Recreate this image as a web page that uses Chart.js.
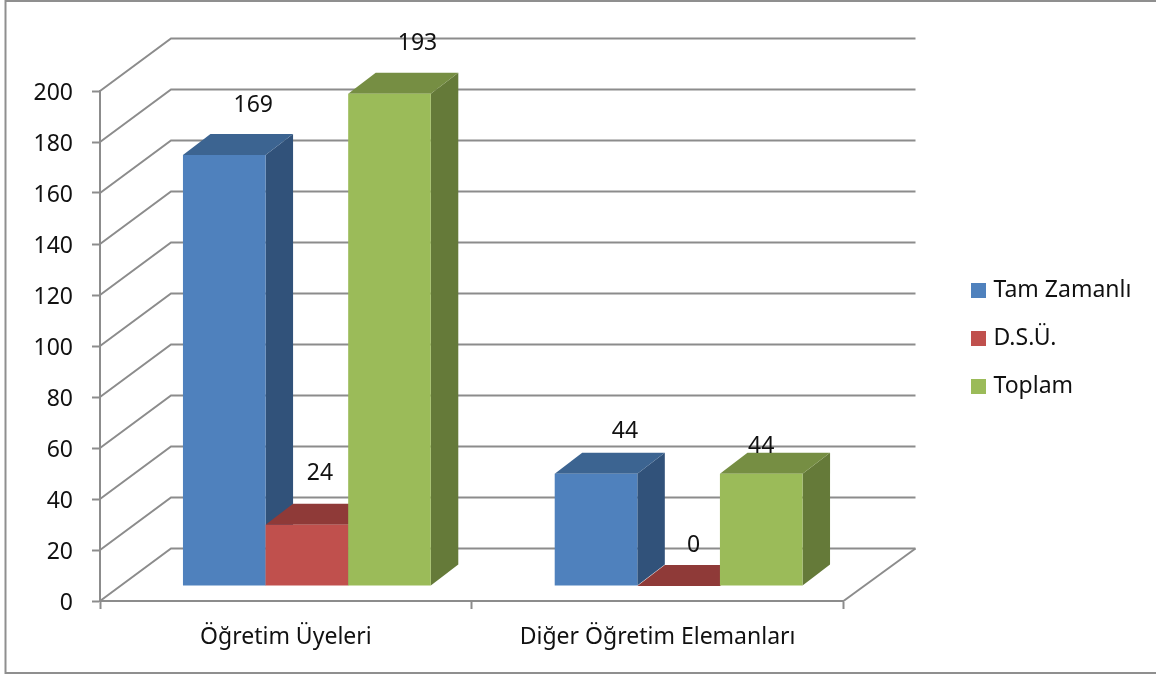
<!DOCTYPE html>
<html lang="tr">
<head>
<meta charset="utf-8">
<style>html,body{margin:0;padding:0;background:#fff}canvas{display:block}</style>
<script src="https://cdn.jsdelivr.net/npm/chart.js@4"></script>
</head>
<body>
<canvas id="c" width="1156" height="677"></canvas>
<script>
const categories = ["Öğretim Üyeleri", "Diğer Öğretim Elemanları"];
const tamZamanli = [169, 44];
const dsu = [24, 0];
const toplam = [193, 44];
const seriesNames = ["Tam Zamanlı", "D.S.Ü.", "Toplam"];
const yTicksMax = 200;
const yTicksStep = 20;

const FONT = "'Noto Sans', sans-serif";
const FS = 23;
const GRID = "#8c8c8c";
const frontColors = ["#4F81BD", "#C0504D", "#9BBB59"];
const topColors = ["#3C6491", "#8F3A38", "#768E43"];
const sideColors = ["#31527A", "#7C3230", "#657A39"];
const wall = {dx: 71, dy: -52.5};
const barShift = {dx: 21, dy: -15};
const depth = {dx: 27.5, dy: -21};
// offsets of each value label from the bar's front top-centre [series][category]
const labelOffsets = [[[29, -50], [29, -42]], [[13, -51], [15, -41]], [[28, -50], [0, -27]]];

function swatch(color) {
  const s = document.createElement("canvas");
  s.width = 15; s.height = 15;
  const g = s.getContext("2d");
  g.fillStyle = color; g.fillRect(0, 0, 15, 15);
  return s;
}
const swatches = frontColors.map(swatch);

function poly(ctx, pts, fill) {
  ctx.fillStyle = fill;
  ctx.beginPath();
  pts.forEach((p, i) => i ? ctx.lineTo(p[0], p[1]) : ctx.moveTo(p[0], p[1]));
  ctx.closePath();
  ctx.fill();
}

const threeD = {
  id: "threeD",
  beforeDraw(chart) {
    const ctx = chart.ctx;
    ctx.save();
    ctx.strokeStyle = "#8f8f8f";
    ctx.lineWidth = 2;
    ctx.strokeRect(5.5, 1, 1170, 672);
    ctx.restore();
  },
  afterLayout(chart) {
    const l = chart.legend;
    const h = l.bottom - l.top;
    l.left = 950; l.right = 1156;
    l.top = 254; l.bottom = 254 + h;
  },
  beforeDatasetsDraw(chart) {
    const ctx = chart.ctx, y = chart.scales.y;
    const a = chart.chartArea;
    ctx.save();
    ctx.strokeStyle = GRID;
    ctx.lineWidth = 2;
    y.ticks.forEach(t => {
      const py = y.getPixelForValue(t.value);
      ctx.beginPath();
      ctx.moveTo(a.left, py);
      ctx.lineTo(a.left + wall.dx, py + wall.dy);
      ctx.lineTo(a.right + wall.dx + 1, py + wall.dy);
      ctx.stroke();
    });
    const base = y.getPixelForValue(0);
    ctx.beginPath();
    ctx.moveTo(a.right, base);
    ctx.lineTo(a.right + wall.dx + 1, base + wall.dy);
    ctx.stroke();
    ctx.restore();
  },
  beforeDatasetDraw() { return false; },
  afterDatasetsDraw(chart) {
    const ctx = chart.ctx;
    ctx.save();
    chart.data.datasets.forEach((ds, i) => {
      chart.getDatasetMeta(i).data.forEach(el => {
        const p = el.getProps(["x", "y", "base", "width"], true);
        const L = p.x - p.width / 2 + barShift.dx, R = p.x + p.width / 2 + barShift.dx;
        const T = p.y + barShift.dy, B = p.base + barShift.dy;
        const dx = depth.dx, dy = depth.dy;
        poly(ctx, [[R, T], [R + dx, T + dy], [R + dx, B + dy], [R, B]], sideColors[i]);
        poly(ctx, [[L, T], [L + dx, T + dy], [R + dx, T + dy], [R, T]], topColors[i]);
        poly(ctx, [[L, T], [R, T], [R, B], [L, B]], frontColors[i]);
      });
    });
    ctx.fillStyle = "#111";
    ctx.font = FS + "px " + FONT;
    ctx.textAlign = "center";
    ctx.textBaseline = "middle";
    chart.data.datasets.forEach((ds, i) => {
      chart.getDatasetMeta(i).data.forEach((el, j) => {
        const p = el.getProps(["x", "y"], true);
        const o = labelOffsets[i][j];
        ctx.fillText(String(ds.data[j]), p.x + barShift.dx + o[0], p.y + barShift.dy + o[1]);
      });
    });
    ctx.restore();
  }
};

new Chart(document.getElementById("c"), {
  type: "bar",
  data: {
    labels: categories,
    datasets: [
      {label: seriesNames[0], data: tamZamanli, backgroundColor: frontColors[0]},
      {label: seriesNames[1], data: dsu, backgroundColor: frontColors[1]},
      {label: seriesNames[2], data: toplam, backgroundColor: frontColors[2]}
    ]
  },
  plugins: [threeD],
  options: {
    responsive: false,
    animation: false,
    devicePixelRatio: 1,
    layout: {padding: {left: 0, right: 312.5, top: 91, bottom: 0}},
    datasets: {bar: {barPercentage: 1, categoryPercentage: 2 / 3}},
    plugins: {
      tooltip: {enabled: false},
      legend: {
        position: "chartArea",
        align: "start",
        labels: {
          usePointStyle: true,
          pointStyleWidth: 7,
          boxHeight: 15,
          padding: 25,
          color: "#111",
          font: {family: FONT, size: FS},
          generateLabels(chart) {
            return Chart.defaults.plugins.legend.labels.generateLabels(chart).map((it, i) => {
              it.pointStyle = swatches[i];
              return it;
            });
          }
        }
      }
    },
    scales: {
      x: {
        type: "category",
        afterFit(s) { s.height = 76; },
        border: {display: true, color: GRID, width: 2},
        grid: {display: true, offset: true, drawOnChartArea: false, drawTicks: true, tickLength: 8, tickColor: GRID, tickWidth: 2},
        ticks: {color: "#111", padding: 15, font: {family: FONT, size: FS}, maxRotation: 0, autoSkip: false}
      },
      y: {
        type: "linear",
        min: 0,
        max: yTicksMax,
        afterFit(s) { s.width = 100; },
        border: {display: true, color: GRID, width: 2},
        grid: {display: true, drawOnChartArea: false, drawTicks: true, tickLength: 8, tickColor: GRID, tickWidth: 2},
        ticks: {stepSize: yTicksStep, color: "#111", padding: 19, labelOffset: 2, font: {family: FONT, size: FS}, autoSkip: false}
      }
    }
  }
});
</script>
</body>
</html>
